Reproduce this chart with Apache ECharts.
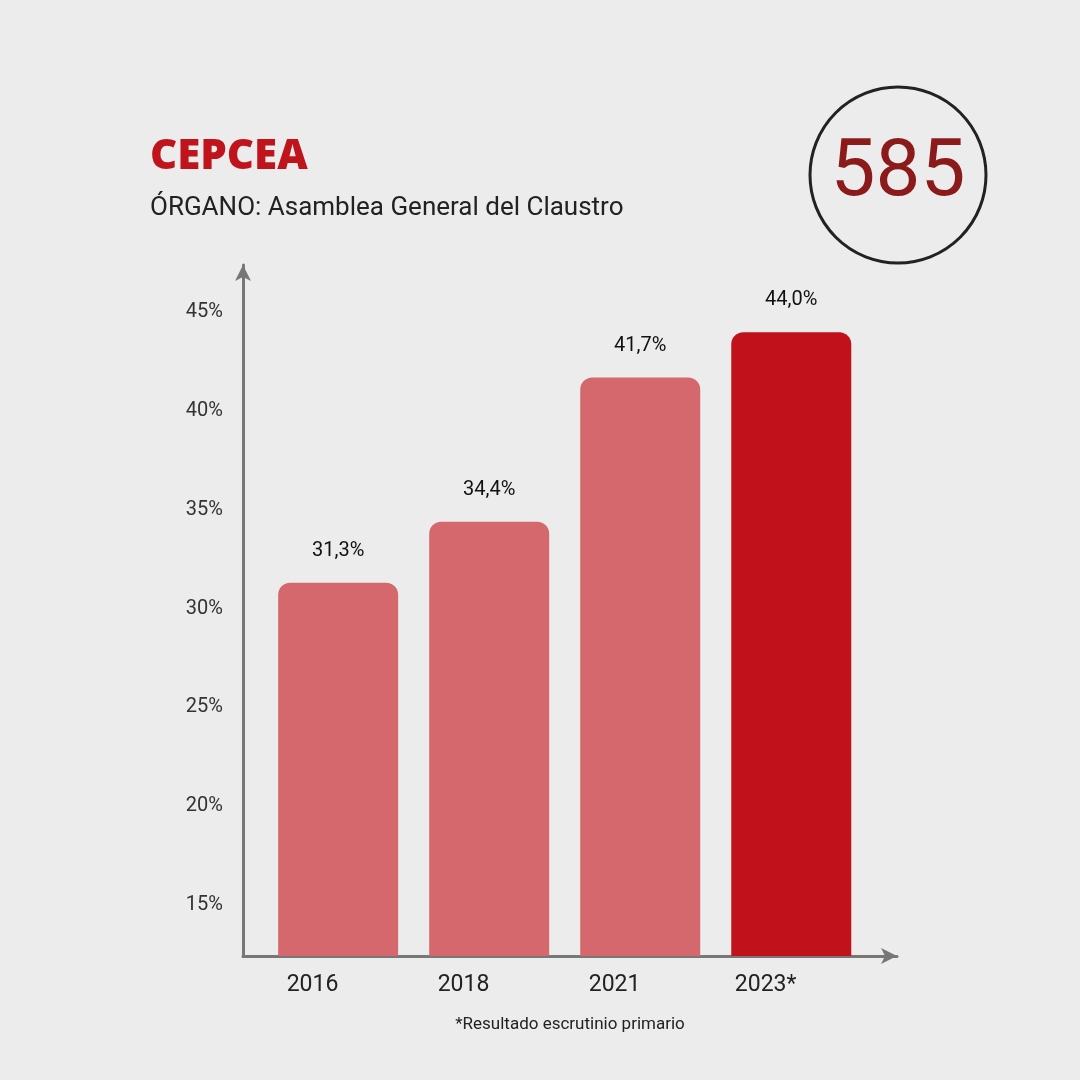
<!DOCTYPE html>
<html><head><meta charset="utf-8">
<script src="https://cdn.jsdelivr.net/npm/echarts@6/dist/echarts.min.js"></script>
<style>html,body{margin:0;background:#ececec}#c{width:1080px;height:1080px}</style>
</head><body><div id="c"></div>
<script>
var years = ['2016', '2018', '2021', '2023*'];
var values = [31.3, 34.4, 41.7, 44.0];
var yTicks = [15, 20, 25, 30, 35, 40, 45];
var barColors = ['#d4686c', '#d4686c', '#d4686c', '#c1111a'];

var chart = echarts.init(document.getElementById('c'));
chart.setOption({
  backgroundColor: '#ececec',
  textStyle: { fontFamily: 'Roboto' },
  graphic: [
    { type: 'text', left: 150, top: 136, style: { text: 'CEPCEA', fontSize: 42, fontWeight: 800, fill: '#c0141c', fontFamily: 'Open Sans' } },
    { type: 'text', left: 150, top: 195, style: { text: 'ÓRGANO: Asamblea General del Claustro', fontSize: 26, fill: '#222', fontFamily: 'Roboto' } },
    { type: 'circle', shape: { cx: 898, cy: 175, r: 88 }, style: { fill: 'none', stroke: '#222', lineWidth: 3 } },
    { type: 'text', x: 898, y: 175, style: { text: '585', fontSize: 80, fill: '#8b1a1a', align: 'center', verticalAlign: 'middle', fontFamily: 'Roboto' } },
    { type: 'text', x: 570, y: 1025, style: { text: '*Resultado escrutinio primario', fontSize: 17, fill: '#222', align: 'center', verticalAlign: 'middle', fontFamily: 'Roboto' } }
  ],
  grid: { left: 243, right: 183, top: 265, bottom: 124 },
  xAxis: {
    type: 'value', min: -0.63, max: 3.7,
    splitLine: { show: false },
    axisTick: { show: false },
    axisLine: { onZero: false, lineStyle: { color: '#777', width: 3 }, symbol: ['none', 'arrow'], symbolSize: [12, 16] },
    axisLabel: { customValues: [-0.17, 0.83, 1.83, 2.83], formatter: function (v) { return years[Math.round(v + 0.17)]; }, fontSize: 23, color: '#222', margin: 18 }
  },
  yAxis: {
    type: 'value', min: 12.4, max: 47.4,
    splitLine: { show: false },
    axisTick: { show: false },
    axisLine: { show: true, onZero: false, lineStyle: { color: '#777', width: 3 }, symbol: ['none', 'arrow'], symbolSize: [12, 16] },
    axisLabel: { customValues: yTicks, formatter: '{value}%', fontSize: 20, color: '#333', margin: 20 }
  },
  series: [{
    type: 'bar',
    barWidth: 120,
    data: values.map(function (v, i) {
      return { value: [i, v], itemStyle: { color: barColors[i], borderRadius: [12, 12, 0, 0] } };
    }),
    label: {
      show: true, position: 'top', distance: 22, fontSize: 20, color: '#111',
      formatter: function (p) { return p.value[1].toFixed(1).replace('.', ',') + '%'; }
    }
  }]
});
</script></body></html>
